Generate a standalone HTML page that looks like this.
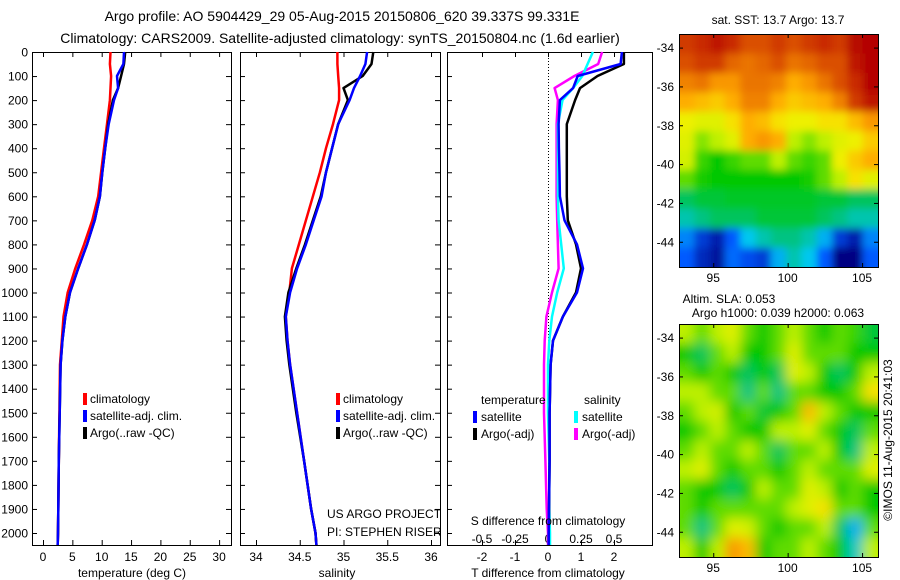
<!DOCTYPE html>
<html><head><meta charset="utf-8"><style>
html,body{margin:0;padding:0;background:#fff}
svg{display:block;font-family:"Liberation Sans",sans-serif;font-size:12px}
</style></head><body>
<svg id="fig" width="900" height="580" viewBox="0 0 900 580" xmlns="http://www.w3.org/2000/svg">
<defs>
<filter id="blur1" x="-5%" y="-5%" width="110%" height="110%"><feGaussianBlur stdDeviation="4"/></filter>
<filter id="blur2" x="-5%" y="-5%" width="110%" height="110%"><feGaussianBlur stdDeviation="6"/></filter>
<clipPath id="clipMap1"><rect x="679" y="34" width="199" height="233"/></clipPath>
<clipPath id="clipMap2"><rect x="679" y="324" width="199" height="233"/></clipPath>
</defs>
<text x="342" y="21" text-anchor="middle" style="font-size:14px">Argo profile: AO 5904429_29 05-Aug-2015 20150806_620 39.337S 99.331E</text>
<text x="340" y="43" text-anchor="middle" style="font-size:14px">Climatology: CARS2009. Satellite-adjusted climatology: synTS_20150804.nc (1.6d earlier)</text>
<g id="layer"></g>
</svg>
<script>
// ---- profile data ----
const depths = [0,50,100,150,200,300,400,500,600,700,800,900,1000,1100,1200,1300,1500,1700,1900,2000,2050];
const tempClim = [11.5,11.4,11.6,11.5,11.4,10.9,10.4,9.9,9.4,8.4,7.0,5.5,4.2,3.5,3.2,2.9,2.8,2.7,2.6,2.55,2.5];
const tempSat  = [13.8,13.7,12.6,12.8,12.1,11.2,10.6,10.1,9.7,8.8,7.5,6.0,4.6,3.8,3.3,3.0,2.85,2.7,2.6,2.55,2.5];
const tempArgo = [14.0,13.8,13.3,12.8,11.9,11.1,10.6,10.1,9.7,8.8,7.5,6.0,4.6,3.8,3.3,3.0,2.85,2.7,2.6,2.55,2.5];
const salClim = [34.93,34.93,34.94,34.95,34.95,34.88,34.80,34.73,34.65,34.57,34.49,34.41,34.38,34.34,34.36,34.39,34.47,34.55,34.63,34.68,34.69];
const salSat  = [35.27,35.25,35.19,35.12,35.07,34.94,34.87,34.80,34.75,34.66,34.57,34.47,34.39,34.34,34.36,34.39,34.47,34.55,34.63,34.68,34.69];
const salArgo = [35.34,35.32,35.22,35.0,35.05,34.94,34.87,34.80,34.74,34.65,34.56,34.46,34.37,34.33,34.35,34.38,34.46,34.55,34.63,34.68,34.69];
const tDiffSat  = [2.24,2.2,0.9,0.76,0.36,0.32,0.33,0.35,0.36,0.5,0.88,1.06,0.88,0.45,0.15,0.08,0.05,0.05,0.03,0.02,0.02];
const tDiffArgo = [2.3,2.3,1.5,0.97,0.82,0.57,0.57,0.57,0.57,0.6,0.85,1.0,0.85,0.45,0.15,0.08,0.05,0.05,0.03,0.02,0.02];
const sDiffSat  = [0.34,0.3,0.26,0.19,0.11,0.075,0.075,0.075,0.075,0.08,0.1,0.12,0.07,0.03,0.01,0.0,0.0,0.01,0.01,0.015,0.015];
const sDiffArgo = [0.41,0.38,0.2,0.05,0.075,0.065,0.065,0.065,0.065,0.07,0.075,0.08,0.03,-0.012,-0.025,-0.03,-0.03,-0.02,-0.01,0.0,0.0];
const depthTicks = [0,100,200,300,400,500,600,700,800,900,1000,1100,1200,1300,1400,1500,1600,1700,1800,1900,2000];
const tempTicks = [0,5,10,15,20,25,30];
const salTicks = [34,34.5,35,35.5,36];
const salTickLabels = ["34","34.5","35","35.5","36"];
const tDiffTicks = [-2,-1,0,1,2];
const sDiffTicks = [-0.5,-0.25,0,0.25,0.5];
const sDiffTickLabels = ["-0.5","-0.25","0","0.25","0.5"];
// ---- map data (colormap fraction), rows north->south, cols west->east ----
const sstGrid = [
[0.88,0.9,0.93,0.9,0.85,0.85,0.88,0.85,0.88,0.9,0.88,0.95,0.96],
[0.85,0.88,0.88,0.82,0.8,0.82,0.85,0.8,0.82,0.85,0.85,0.93,0.96],
[0.78,0.8,0.75,0.75,0.8,0.8,0.78,0.72,0.75,0.8,0.85,0.9,0.96],
[0.72,0.7,0.68,0.72,0.78,0.78,0.72,0.68,0.7,0.72,0.78,0.88,0.93],
[0.62,0.6,0.6,0.65,0.72,0.7,0.65,0.62,0.62,0.65,0.65,0.7,0.75],
[0.6,0.52,0.55,0.6,0.72,0.75,0.72,0.55,0.52,0.55,0.6,0.62,0.68],
[0.58,0.48,0.45,0.48,0.5,0.5,0.55,0.5,0.48,0.5,0.62,0.68,0.72],
[0.5,0.46,0.45,0.45,0.45,0.45,0.45,0.45,0.46,0.5,0.55,0.65,0.6],
[0.4,0.42,0.42,0.43,0.43,0.43,0.43,0.43,0.43,0.42,0.42,0.4,0.4],
[0.36,0.38,0.4,0.4,0.4,0.42,0.42,0.42,0.42,0.4,0.38,0.36,0.36],
[0.25,0.15,0.1,0.2,0.33,0.36,0.38,0.38,0.36,0.3,0.15,0.1,0.25],
[0.2,0.12,0.08,0.22,0.18,0.15,0.3,0.36,0.33,0.2,0.05,0.05,0.2]];
const slaGrid = [
[0.55,0.5,0.55,0.6,0.5,0.45,0.5,0.55,0.5,0.45,0.5,0.48,0.42],
[0.45,0.4,0.5,0.55,0.45,0.45,0.5,0.6,0.5,0.5,0.5,0.45,0.45],
[0.5,0.45,0.5,0.45,0.4,0.45,0.4,0.6,0.55,0.45,0.4,0.45,0.55],
[0.55,0.55,0.5,0.5,0.38,0.5,0.38,0.5,0.5,0.45,0.45,0.5,0.65],
[0.5,0.55,0.58,0.45,0.5,0.42,0.45,0.5,0.7,0.55,0.5,0.45,0.45],
[0.45,0.5,0.55,0.5,0.45,0.45,0.55,0.55,0.6,0.5,0.45,0.4,0.5],
[0.5,0.55,0.5,0.5,0.55,0.5,0.4,0.5,0.5,0.55,0.45,0.38,0.55],
[0.55,0.6,0.5,0.45,0.5,0.5,0.45,0.5,0.55,0.5,0.5,0.5,0.6],
[0.5,0.45,0.45,0.4,0.45,0.55,0.5,0.5,0.6,0.55,0.45,0.5,0.45],
[0.5,0.45,0.5,0.5,0.5,0.5,0.5,0.55,0.6,0.65,0.5,0.5,0.45],
[0.5,0.38,0.5,0.6,0.58,0.5,0.45,0.5,0.5,0.55,0.4,0.3,0.5],
[0.55,0.45,0.55,0.75,0.7,0.45,0.5,0.5,0.55,0.5,0.45,0.35,0.55]];
const latTicks = [-34,-36,-38,-40,-42,-44];
const lonTicks = [95,100,105];

const NS = "http://www.w3.org/2000/svg";
const layer = document.getElementById('layer');
function mk(tag, attrs, parent){ const e=document.createElementNS(NS,tag); for(const k in attrs) e.setAttribute(k,attrs[k]); (parent||layer).appendChild(e); return e; }
function txt(x,y,s,anchor,parent){ const t=mk('text',{x:x,y:y,'text-anchor':anchor||'start'},parent); t.textContent=s; return t; }

const Y0=52, PXD=0.2405, YB=545;
const yD = d => Y0 + d*PXD;

function panel(name){
  const g=mk('g',{});
  
  
  return g;
}
function frame(g,x0,x1){
  const r=mk('rect',{x:x0+0.5,y:Y0+0.5,width:x1-x0,height:YB-Y0,fill:'none',stroke:'#000','stroke-width':1},g);
  
  
}
function line(g, xs, vals, color, w, name){
  const pts = depths.map((d,i)=> xs(vals[i]).toFixed(1)+','+yD(d).toFixed(1)).join(' ');
  const p=mk('polyline',{points:pts,fill:'none',stroke:color,'stroke-width':w,'stroke-linejoin':'round'},g);
  
  
}
function xticks(g, xs, ticks, labels, ly){
  ticks.forEach((v,i)=>{
    const x=xs(v)+0.5;
    mk('line',{x1:x,x2:x,y1:Y0,y2:Y0+5,stroke:'#000'},g);
    mk('line',{x1:x,x2:x,y1:YB,y2:YB-5,stroke:'#000'},g);
    const t=txt(xs(v),ly,labels[i],'middle',g);
    
    
  });
}
function legendMark(g,x,y,color){ mk('rect',{x:x,y:y-10,width:4,height:12,fill:color},g); }

// Panel 1: temperature
const xT = v => 43 + v*5.87;
const g1 = panel('temperature-panel');
frame(g1,32,231);
depthTicks.forEach(d=>{
  const y=yD(d)+0.5;
  mk('line',{x1:32,x2:37,y1:y,y2:y,stroke:'#000'},g1);
  mk('line',{x1:231,x2:226,y1:y,y2:y,stroke:'#000'},g1);
  const t=txt(28,y+4,String(d),'end',g1);
  
  
});
xticks(g1,xT,tempTicks,tempTicks.map(String),561);
line(g1,xT,tempClim,'#ff0000',2.5,'temp-climatology-line');
line(g1,xT,tempArgo,'#000000',2.5,'temp-argo-line');
line(g1,xT,tempSat,'#0000ff',2.5,'temp-satellite-line');
let t;
t=txt(132,577,'temperature (deg C)','middle',g1);  
[['climatology','#f00',403],['satellite-adj. clim.','#00f',420],['Argo(..raw -QC)','#000',437]].forEach(a=>{
  legendMark(g1,83,a[2],a[1]); const e=txt(90,a[2],a[0],'start',g1);
   
});

// Panel 2: salinity
const xS = v => 256 + (v-34)*87.5;
const g2 = panel('salinity-panel');
frame(g2,240,440);
depthTicks.forEach(d=>{ const y=yD(d)+0.5;
  mk('line',{x1:240,x2:245,y1:y,y2:y,stroke:'#000'},g2);
  mk('line',{x1:440,x2:435,y1:y,y2:y,stroke:'#000'},g2); });
xticks(g2,xS,salTicks,salTickLabels,561);
line(g2,xS,salClim,'#ff0000',2.5,'sal-climatology-line');
line(g2,xS,salArgo,'#000000',2.5,'sal-argo-line');
line(g2,xS,salSat,'#0000ff',2.5,'sal-satellite-line');
t=txt(337,577,'salinity','middle',g2);  
[['climatology','#f00',403],['satellite-adj. clim.','#00f',420],['Argo(..raw -QC)','#000',437]].forEach(a=>{
  legendMark(g2,336,a[2],a[1]); const e=txt(343,a[2],a[0],'start',g2);
   
});
t=txt(327,518,'US ARGO PROJECT','start',g2);  
t=txt(327,536,'PI: STEPHEN RISER','start',g2);  

// Panel 3: differences
const xTD = v => 548 + v*33;
const xSD = v => 548 + v*132;
const g3 = panel('difference-panel');
frame(g3,447,652);
depthTicks.forEach(d=>{ const y=yD(d)+0.5;
  mk('line',{x1:447,x2:452,y1:y,y2:y,stroke:'#000'},g3); });
mk('line',{x1:548.5,x2:548.5,y1:Y0,y2:YB,stroke:'#000','stroke-dasharray':'1,2'},g3);
xticks(g3,xTD,tDiffTicks,tDiffTicks.map(String),561);
sDiffTicks.forEach((v,i)=>{ const e=txt(xSD(v),543,sDiffTickLabels[i],'middle',g3);
    });
line(g3,xSD,sDiffArgo,'#ff00ff',2.5,'sal-diff-argo-line');
line(g3,xSD,sDiffSat,'#00ffff',2.5,'sal-diff-satellite-line');
line(g3,xTD,tDiffArgo,'#000000',2.5,'temp-diff-argo-line');
line(g3,xTD,tDiffSat,'#0000ff',2.5,'temp-diff-satellite-line');
t=txt(548,525,'S difference from climatology','middle',g3);  
t=txt(548,577,'T difference from climatology','middle',g3);  
t=txt(481,404,'temperature','start',g3);  
t=txt(584,404,'salinity','start',g3);  
[[473,'#00f','satellite',421],[473,'#000','Argo(-adj)',438],[574,'#0ff','satellite',421],[574,'#f0f','Argo(-adj)',438]].forEach(a=>{
  legendMark(g3,a[0],a[3],a[1]); const e=txt(a[0]+8,a[3],a[2],'start',g3);
   
});

// ---- maps ----
const cmapStops = [0.05,0.2,0.33,0.38,0.45,0.55,0.63,0.73,0.83,0.96];
const cmapColors = [[0,0,130],[0,90,255],[0,200,240],[0,195,130],[0,200,0],[190,240,0],[245,240,0],[255,165,0],[225,95,0],[180,0,0]];
function cmap(v){
  if(v<=cmapStops[0]) return 'rgb('+cmapColors[0].join(',')+')';
  for(let i=1;i<cmapStops.length;i++){
    if(v<=cmapStops[i]){
      const f=(v-cmapStops[i-1])/(cmapStops[i]-cmapStops[i-1]);
      const c=cmapColors[i-1].map((a,k)=>Math.round(a+(cmapColors[i][k]-a)*f));
      return 'rgb('+c.join(',')+')';
    }
  }
  return 'rgb('+cmapColors[cmapColors.length-1].join(',')+')';
}
const LON0=92.7, LON1=106.07, LAT0=-33.3, LAT1=-45.3;
function drawMap(name, grid, top, filt, clip){
  const X0=679, X1=878, H=233;
  const xL = lon => X0 + (lon-LON0)*(X1-X0)/(LON1-LON0);
  const yL = lat => top + (lat-LAT0)*H/(LAT1-LAT0);
  const g=mk('g',{});
  
  
  const cg=mk('g',{'clip-path':'url(#'+clip+')'},g);
  const ig=mk('g',{filter:'url(#'+filt+')'},cg);
  const nr=grid.length, nc=grid[0].length;
  const cw=(X1-X0)/nc, ch=H/nr;
  for(let r=0;r<nr;r++) for(let c=0;c<nc;c++){
    const rx=X0+c*cw-(c==0?12:0), ry=top+r*ch-(r==0?12:0);
    const cell=mk('rect',{x:rx,y:ry,width:cw+1+(c==0||c==nc-1?12:0),height:ch+1+(r==0||r==nr-1?12:0),fill:cmap(grid[r][c])},ig);
    
    
  }
  mk('rect',{x:X0+0.5,y:top+0.5,width:X1-X0,height:H,fill:'none',stroke:'#000'},g);
  latTicks.forEach(l=>{ const y=yL(l)+0.5;
    mk('line',{x1:X0,x2:X0+4,y1:y,y2:y,stroke:'#000'},g);
    mk('line',{x1:X1,x2:X1-4,y1:y,y2:y,stroke:'#000'},g);
    const e=txt(674,y+4,String(l),'end',g);   });
  lonTicks.forEach(l=>{ const x=xL(l)+0.5;
    mk('line',{x1:x,x2:x,y1:top,y2:top+4,stroke:'#000'},g);
    mk('line',{x1:x,x2:x,y1:top+H,y2:top+H-4,stroke:'#000'},g);
    const e=txt(xL(l),top+H+15,String(l),'middle',g);   });
}
drawMap('sst-map', sstGrid, 34, 'blur1', 'clipMap1');
drawMap('sla-map', slaGrid, 324, 'blur2', 'clipMap2');
t=txt(778,24,'sat. SST: 13.7 Argo: 13.7','middle');  
t=txt(729,303,'Altim. SLA: 0.053','middle');  
t=txt(778,317,'Argo h1000: 0.039 h2000: 0.063','middle');  
t=txt(0,0,'©IMOS 11-Aug-2015 20:41:03','middle'); t.setAttribute('transform','translate(892,440) rotate(-90)');
 
</script>
</body></html>
